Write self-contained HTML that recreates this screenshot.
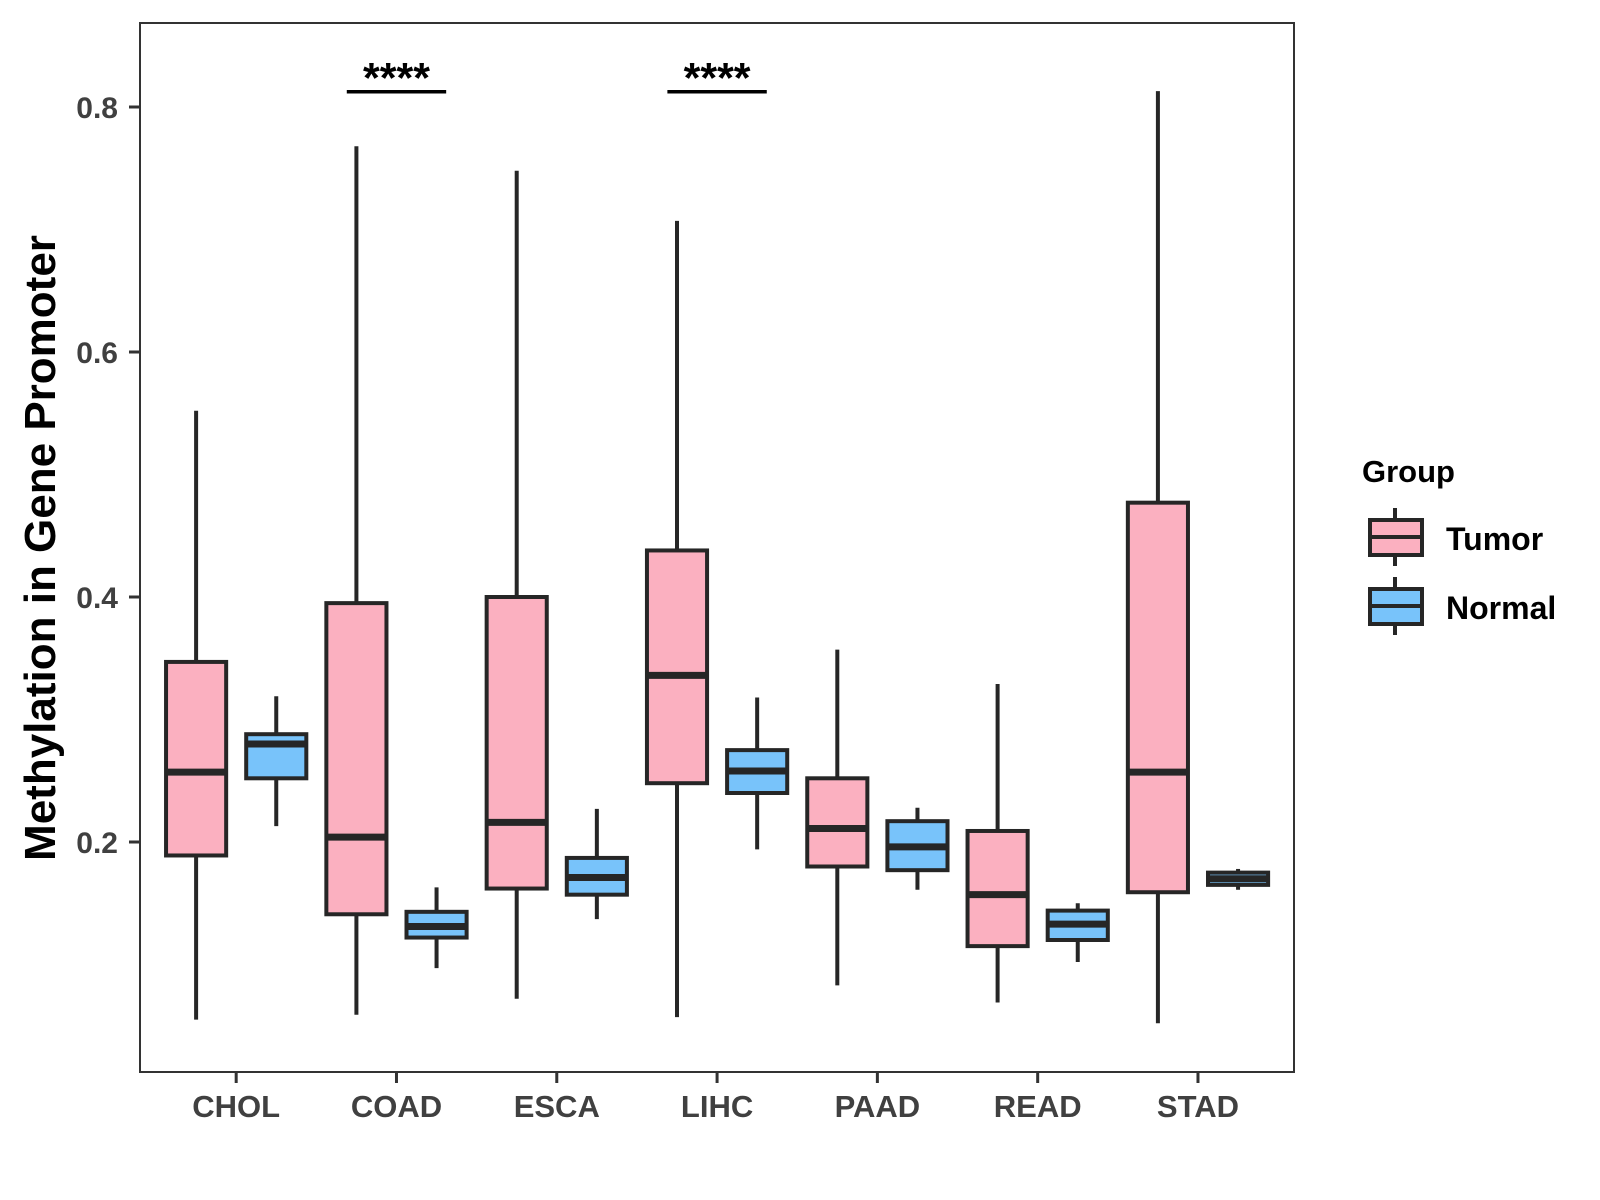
<!DOCTYPE html>
<html><head><meta charset="utf-8"><style>
html,body{margin:0;padding:0;background:#fff;}
svg{display:block;font-family:"Liberation Sans",Arial,sans-serif;}
</style></head><body>
<svg id="chart" width="1600" height="1200" viewBox="0 0 1600 1200">
<rect x="0" y="0" width="1600" height="1200" fill="#fff"/>
<g id="marks"></g>
<rect x="140" y="23" width="1154" height="1049" fill="none" stroke="#333" stroke-width="2"/>
<g id="axes"></g>
<text x="0" y="0" transform="translate(55,548) rotate(-90)" text-anchor="middle" font-size="44" font-weight="bold" fill="#000">Methylation in Gene Promoter</text>
<g>
<text x="1362" y="482" font-size="31" font-weight="bold" fill="#000">Group</text>
<g>
<line x1="1395" y1="508" x2="1395" y2="566" stroke="#262626" stroke-width="4"/>
<rect x="1370" y="520" width="52" height="35" fill="#FBB0C0" stroke="#262626" stroke-width="4"/>
<line x1="1370" y1="537" x2="1422" y2="537" stroke="#262626" stroke-width="4"/>
<text x="1446" y="550" font-size="32" font-weight="bold" fill="#000">Tumor</text>
</g>
<g>
<line x1="1395" y1="577" x2="1395" y2="635" stroke="#262626" stroke-width="4"/>
<rect x="1370" y="589" width="52" height="35" fill="#78C3FA" stroke="#262626" stroke-width="4"/>
<line x1="1370" y1="606" x2="1422" y2="606" stroke="#262626" stroke-width="4"/>
<text x="1446" y="619" font-size="32" font-weight="bold" fill="#000">Normal</text>
</g>
</g>
</svg>
<script>
const categories = ["CHOL","COAD","ESCA","LIHC","PAAD","READ","STAD"];
const tumorLow  = [0.055,0.059,0.072,0.057,0.083,0.069,0.052];
const tumorQ1   = [0.189,0.141,0.162,0.248,0.180,0.115,0.159];
const tumorMed  = [0.257,0.204,0.216,0.336,0.211,0.157,0.257];
const tumorQ3   = [0.347,0.395,0.400,0.438,0.252,0.209,0.477];
const tumorHigh = [0.552,0.768,0.748,0.707,0.357,0.329,0.813];
const normalLow  = [0.213,0.097,0.137,0.194,0.161,0.102,0.161];
const normalQ1   = [0.252,0.122,0.157,0.240,0.177,0.120,0.165];
const normalMed  = [0.280,0.131,0.171,0.258,0.196,0.133,0.170];
const normalQ3   = [0.288,0.143,0.187,0.275,0.217,0.144,0.175];
const normalHigh = [0.319,0.163,0.227,0.318,0.228,0.150,0.178];
const yTicks = [0.2,0.4,0.6,0.8];
const yTickLabels = ["0.2","0.4","0.6","0.8"];
const sigCategories = ["COAD","LIHC"];
const sigLabels = ["****","****"];
const sigLevel = 0.8125;

const NS="http://www.w3.org/2000/svg";
const yS = v => 107 + (0.8 - v) * 1225;
const xS = i => 140 + (i + 0.6) * 160.3;
const unit = 160.3;
const marks = document.getElementById('marks');
const axes = document.getElementById('axes');
function mk(tag, attrs, parent){const e=document.createElementNS(NS,tag);for(const k in attrs)e.setAttribute(k,attrs[k]);parent.appendChild(e);return e;}

function drawBox(cx, lo, q1, med, q3, hi, fill, parent){
  const w = 0.375*unit;
  mk('line',{x1:cx,y1:yS(hi),x2:cx,y2:yS(lo),stroke:'#262626','stroke-width':4},parent);
  mk('rect',{x:cx-w/2,y:yS(q3),width:w,height:Math.max(yS(q1)-yS(q3),1),fill:fill,stroke:'#262626','stroke-width':4},parent);
  mk('line',{x1:cx-w/2,y1:yS(med),x2:cx+w/2,y2:yS(med),stroke:'#262626','stroke-width':7},parent);
}
categories.forEach((c,i)=>{
  const g1 = mk('g',{},marks);
  
  
  drawBox(xS(i)-0.25*unit, tumorLow[i], tumorQ1[i], tumorMed[i], tumorQ3[i], tumorHigh[i], '#FBB0C0', g1);
  const g2 = mk('g',{},marks);
  
  
  drawBox(xS(i)+0.25*unit, normalLow[i], normalQ1[i], normalMed[i], normalQ3[i], normalHigh[i], '#78C3FA', g2);
  const tk = mk('line',{x1:xS(i),y1:1072,x2:xS(i),y2:1083,stroke:'#333','stroke-width':3},axes);
  
  
  const tl = mk('text',{x:xS(i),y:1117,'text-anchor':'middle','font-size':31,'font-weight':'bold',fill:'#404040'},axes);
  tl.textContent = c;
  
  
});
yTicks.forEach((v,i)=>{
  const tk = mk('line',{x1:129,y1:yS(v),x2:140,y2:yS(v),stroke:'#333','stroke-width':3},axes);
  
  
  const tl = mk('text',{x:118,y:yS(v)+11,'text-anchor':'end','font-size':30,'font-weight':'bold',fill:'#404040'},axes);
  tl.textContent = yTickLabels[i];
  
  
});
sigCategories.forEach((c,k)=>{
  const i = categories.indexOf(c);
  const g = mk('g',{},marks);
  
  
  mk('line',{x1:xS(i)-0.31*unit,y1:yS(sigLevel),x2:xS(i)+0.31*unit,y2:yS(sigLevel),stroke:'#000','stroke-width':3.5},g);
  const t = mk('text',{x:xS(i),y:yS(sigLevel)+1,'text-anchor':'middle','font-size':43,'font-weight':'bold',fill:'#000'},g);
  t.textContent = sigLabels[k];
});
</script>
</body></html>
